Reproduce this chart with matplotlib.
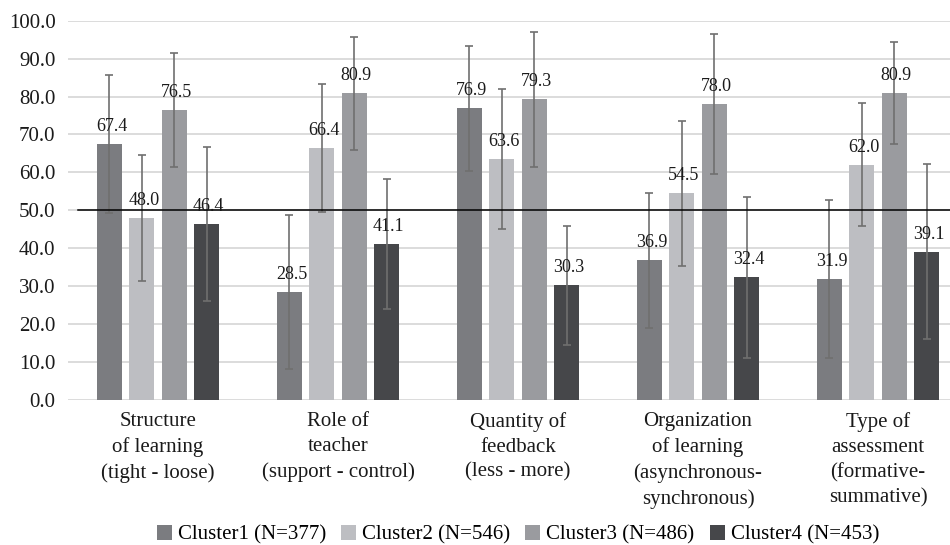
import matplotlib
matplotlib.use("Agg")
import matplotlib.pyplot as plt
import matplotlib.transforms as mtransforms
import numpy as np

categories = [
    "Structure\nof learning\n(tight - loose)",
    "Role of\nteacher\n(support - control)",
    "Quantity of\nfeedback\n(less - more)",
    "Organization\nof learning\n(asynchronous-\nsynchronous)",
    "Type of\nassessment\n(formative-\nsummative)",
]
series_names = ["Cluster1 (N=377)", "Cluster2 (N=546)", "Cluster3 (N=486)", "Cluster4 (N=453)"]
cluster1 = [67.4, 28.5, 76.9, 36.9, 31.9]
cluster2 = [48.0, 66.4, 63.6, 54.5, 62.0]
cluster3 = [76.5, 80.9, 79.3, 78.0, 80.9]
cluster4 = [46.4, 41.1, 30.3, 32.4, 39.1]
err1 = [18.2, 20.4, 16.5, 17.8, 20.8]
err2 = [16.7, 16.9, 18.4, 19.1, 16.2]
err3 = [15.1, 14.9, 17.8, 18.5, 13.4]
err4 = [20.3, 17.2, 15.7, 21.2, 23.1]
reference_value = 50.0
yticks = [0, 10, 20, 30, 40, 50, 60, 70, 80, 90, 100]

values = [cluster1, cluster2, cluster3, cluster4]
errors = [err1, err2, err3, err4]
colors = ["#7b7c80", "#bdbec2", "#9a9b9f", "#46474a"]

plt.rcParams['font.family'] = ['Liberation Serif', 'DejaVu Serif']
FS = 15
FS_LAB = 13
TXT = '#1a1a1a'

fig = plt.figure(figsize=(9.5, 5.45), dpi=100)
ax = fig.add_axes([68/950, 145/545, 900/950, 379.3/545])

x = np.arange(len(categories))
step = 0.18
width = 0.14
handles = []
lab_off = mtransforms.offset_copy(ax.transData, fig=fig, x=2.0, y=13.0, units='dots')
for i, (vals, errs, col) in enumerate(zip(values, errors, colors)):
    pos = x + (i - 1.5) * step
    b = ax.bar(pos, vals, width=width, color=col, zorder=2, label=series_names[i])
    handles.append(b)
    ax.errorbar(pos, vals, yerr=errs, fmt='none', ecolor='#6f6f6f', elinewidth=1.2,
                capsize=3, capthick=1.2, zorder=3)
    for px, v in zip(pos, vals):
        ax.text(px, v, f"{v:.1f}", ha='center', va='baseline', fontsize=FS_LAB,
                color=TXT, zorder=4, transform=lab_off)

ax.plot([-0.446, 4.5], [reference_value, reference_value], color='black', lw=1.1, zorder=3)

ax.set_xlim(-0.5, 4.5)
ax.set_ylim(0, 100)
ax.set_yticks(yticks)
ax.set_yticklabels([f"{t:.1f}" for t in yticks], fontsize=FS, color=TXT)
ax.set_xticks(x)
ax.set_xticklabels(categories, fontsize=FS, color=TXT, linespacing=1.42, va='top')
ax.tick_params(axis='both', length=0)
ax.tick_params(axis='y', pad=9)
ax.tick_params(axis='x', pad=8.5)
for s in ax.spines.values():
    s.set_visible(False)
ax.yaxis.grid(True, color='#d9d9d9', lw=1.3, zorder=0)
ax.set_axisbelow(True)

fig.legend(handles=handles, labels=series_names, loc='center', bbox_to_anchor=(518/950, 1 - 535/545),
           ncol=4, frameon=False, fontsize=FS, handlelength=0.72, handleheight=0.72,
           handletextpad=0.29, columnspacing=0.72, borderpad=0.0, borderaxespad=0.0)

fig.savefig("out.png", dpi=100)
